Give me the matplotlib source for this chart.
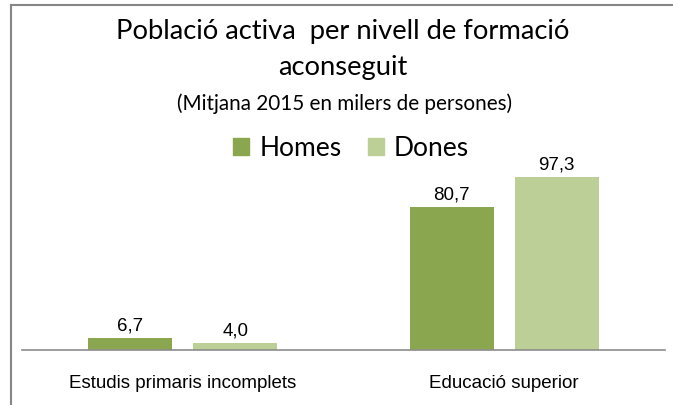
import matplotlib
matplotlib.use("Agg")
import matplotlib.pyplot as plt
from matplotlib.lines import Line2D
from matplotlib.patches import Patch
import numpy as np

categories = ["Estudis primaris incomplets", "Educació superior"]
series_names = ["Homes", "Dones"]
homes = [6.7, 80.7]
dones = [4.0, 97.3]
colors = ["#8AA64F", "#BBCF97"]

W, H = 673, 405
fig = plt.figure(figsize=(W / 100, H / 100), dpi=100)

def fx(px):
    return px / W

def fy(py):
    return 1 - py / H

# axes: x from 22 to 665 px, baseline at 350 px, top at 150 px
ax = fig.add_axes([fx(22), fy(350), fx(665) - fx(22), (350 - 150) / H])
x = np.arange(len(categories))
bw = 0.262
off = 0.163
b1 = ax.bar(x - off, homes, bw, color=colors[0], label=series_names[0])
b2 = ax.bar(x + off, dones, bw, color=colors[1], label=series_names[1])
ax.set_xlim(-0.5, 1.5)
ax.set_ylim(0, 200 / 1.778)
for s in ["top", "right", "left"]:
    ax.spines[s].set_visible(False)
ax.spines["bottom"].set_color("#8C8C8C")
ax.spines["bottom"].set_linewidth(1.2)
ax.set_yticks([])
ax.set_xticks(x)
ax.set_xticklabels(categories, fontfamily="Liberation Sans", fontsize=13.5)
ax.tick_params(axis="x", length=0, pad=18)

for bars, vals in ((b1, homes), (b2, dones)):
    for b, v in zip(bars, vals):
        ax.annotate(f"{v:.1f}".replace(".", ","),
                    (b.get_x() + b.get_width() / 2, v),
                    xytext=(0, 2.5), textcoords="offset points",
                    ha="center", va="bottom",
                    fontfamily="Liberation Sans", fontsize=13.5)

title_font = "Lato"
fig.text(fx(343), fy(31), "Població activa  per nivell de formació",
         ha="center", va="center", fontfamily=title_font, fontsize=19.7)
fig.text(fx(343), fy(67), "aconseguit",
         ha="center", va="center", fontfamily=title_font, fontsize=19.7)
fig.text(fx(345), fy(104), "(Mitjana 2015 en milers de persones)",
         ha="center", va="center", fontfamily=title_font, fontsize=14.9)

handles = [Patch(color=colors[0]), Patch(color=colors[1])]
fig.legend(handles, series_names, loc="center", ncol=2,
           bbox_to_anchor=(fx(351), fy(148)), frameon=False,
           prop={"family": title_font, "size": 19},
           handlelength=0.6, handleheight=0.6, handletextpad=0.4,
           columnspacing=1.0)

# outer frame (top and left edges visible)
fig.add_artist(Line2D([fx(11), 1], [fy(4.5), fy(4.5)], transform=fig.transFigure,
                      color="#868686", lw=1.5))
fig.add_artist(Line2D([fx(11), fx(11)], [fy(4.5), 0], transform=fig.transFigure,
                      color="#868686", lw=1.5))

fig.savefig("out.png", dpi=100)
